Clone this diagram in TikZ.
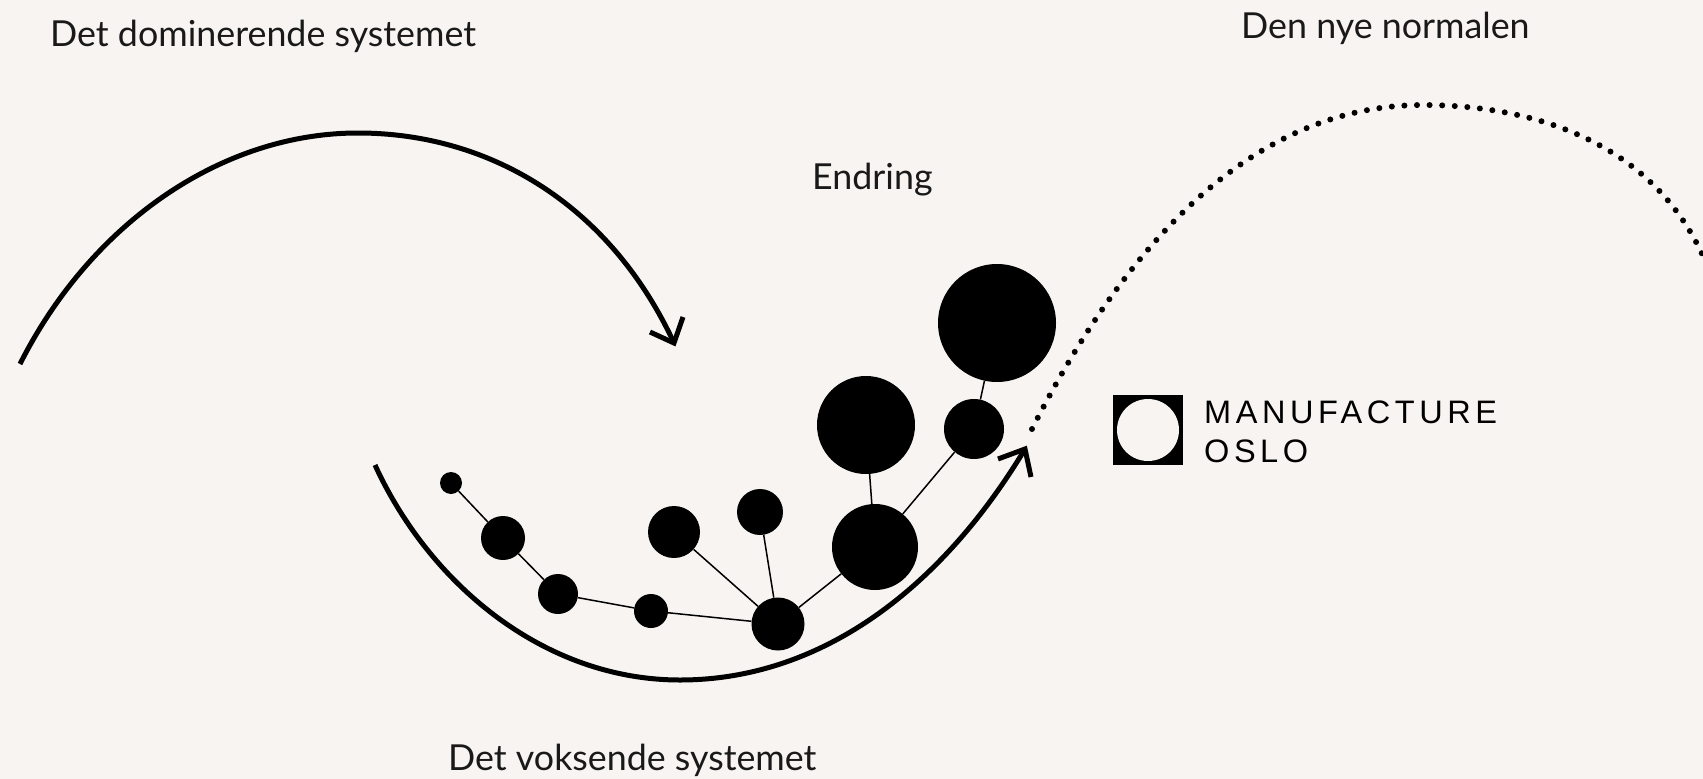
\documentclass[tikz,border=0pt]{standalone}
\usepackage{fontspec}
\setmainfont{Lato}
\newfontfamily\logofont[LetterSpace=14]{Liberation Sans}
\definecolor{bgc}{HTML}{F7F4F1}
\tikzset{
  dotn/.style={circle,fill=black,draw=none,inner sep=0pt,minimum size=#1},
  link/.style={line width=1.5pt,black},
  sweep/.style={line width=5pt,black},
  barb/.style={line width=5pt,black,line join=miter},
  dots/.style={line width=6pt,black,line cap=round,dash pattern=on 0pt off 12.6pt},
  lab/.style={anchor=base west,inner sep=0pt,font=\fontsize{35.8}{42}\selectfont,text=black!90},
  logot/.style={anchor=base west,inner sep=0pt,font=\logofont\fontsize{32.5}{38}\selectfont,text=black}
}
\begin{document}
\begin{tikzpicture}[x=1pt,y=-1pt]
\path[use as bounding box,fill=bgc] (0,0) rectangle (1703,779);
% text
\node[lab] (t1) at (50,46) {Det dominerende systemet};
\node[lab] (t2) at (1241,38) {Den nye normalen};
\node[lab] (t3) at (812,189) {Endring};
\node[lab] (t4) at (448,770) {Det voksende systemet};
% arcs
\coordinate (a0) at (20,364);
\coordinate (a1) at (358,133);
\coordinate (a2) at (674,343);
\coordinate (a3) at (650,332);
\coordinate (a4) at (683,317);
\draw[sweep] (a0) .. controls (90,225) and (220,133) .. (a1) .. controls (490,133) and (610,205) .. (a2);
\draw[barb] (a3) -- (a2) -- (a4);
\coordinate (b0) at (375,465);
\coordinate (b1) at (680,680);
\coordinate (b2) at (1025,449);
\coordinate (b3) at (998,459);
\coordinate (b4) at (1031,477);
\draw[sweep] (b0) .. controls (430,585) and (545,680) .. (b1) .. controls (820,680) and (940,590) .. (b2);
\draw[barb] (b3) -- (b2) -- (b4);
\coordinate (c0) at (1032,429);
\coordinate (c1) at (1423,105);
\coordinate (c2) at (1703,256);
\draw[dots] (c0) .. controls (1115,265) and (1240,105) .. (c1) .. controls (1530,105) and (1650,140) .. (c2);
% network
\node[dotn=22pt] (n1) at (451,483) {};
\node[dotn=44pt] (n2) at (503,538) {};
\node[dotn=40pt] (n3) at (558,594) {};
\node[dotn=34pt] (n4) at (651,611) {};
\node[dotn=52pt] (n5) at (674,532) {};
\node[dotn=46pt] (n6) at (760,512) {};
\node[dotn=53pt] (n7) at (778,624) {};
\node[dotn=86pt] (n8) at (875,547) {};
\node[dotn=98pt] (n9) at (866,425) {};
\node[dotn=60pt] (n10) at (974,429) {};
\node[dotn=118pt] (n11) at (997,323) {};
\draw[link] (n1)--(n2);
\draw[link] (n2)--(n3);
\draw[link] (n3)--(n4);
\draw[link] (n4)--(n7);
\draw[link] (n5)--(n7);
\draw[link] (n6)--(n7);
\draw[link] (n7)--(n8);
\draw[link] (n8)--(n9);
\draw[link] (n8)--(n10);
\draw[link] (n10)--(n11);
% logo
\node[fill=black,minimum size=70pt,inner sep=0pt] (l1) at (1148,430) {};
\node[circle,fill=bgc,minimum size=62pt,inner sep=0pt] (l2) at (1148,430) {};
\node[logot] (l3) at (1204,423) {MANUFACTURE};
\node[logot] (l4) at (1204,462) {OSLO};
\end{tikzpicture}
\end{document}
